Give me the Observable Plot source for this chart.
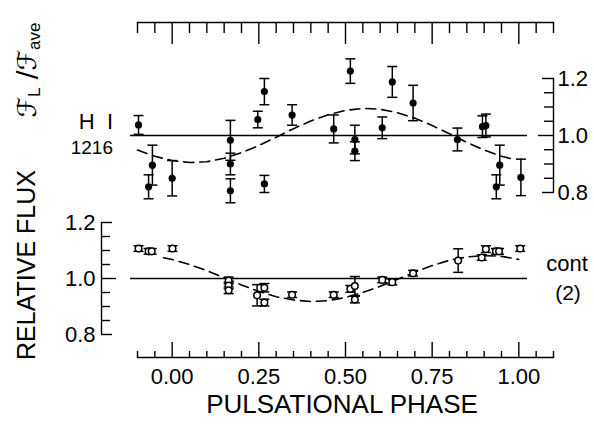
<!DOCTYPE html>
<html><head><meta charset="utf-8">
<script src="https://cdn.jsdelivr.net/npm/d3@7"></script>
<script src="https://cdn.jsdelivr.net/npm/@observablehq/plot@0.6"></script>
<style>
body{margin:0;background:#fff;}
#wrap{position:relative;width:594px;height:424px;font-family:"Liberation Sans",Arial,sans-serif;color:#000;overflow:hidden;}
#wrap svg{position:absolute;left:0;top:0;}
.lab{position:absolute;white-space:nowrap;line-height:1;}
.rot{position:absolute;white-space:nowrap;line-height:1;transform:translate(-50%,-50%) rotate(-90deg);}
</style></head><body><div id="wrap">
<div class="rot" style="left:28px;top:70px;font-size:26px;font-family:'DejaVu Sans','DejaVu Serif','Liberation Sans',sans-serif;">ℱ<span style="font-family:'Liberation Sans';font-size:17px;vertical-align:-4px">L</span> /ℱ<span style="font-family:'Liberation Sans';font-size:17px;vertical-align:-4px">ave</span></div>
<div class="rot" style="left:26px;top:265px;font-size:25px;">RELATIVE FLUX</div>
<div class="lab" style="right:481px;top:111px;font-size:22px;">H&nbsp;&nbsp;I</div>
<div class="lab" style="right:481px;top:138px;font-size:19px;">1216</div>
<div class="lab" style="left:567px;top:253px;font-size:22px;transform:translateX(-50%);">cont</div>
<div class="lab" style="left:568px;top:282px;font-size:21px;transform:translateX(-50%);">(2)</div>
<div class="lab" style="left:342px;top:391px;font-size:26px;transform:translateX(-50%);">PULSATIONAL PHASE</div>
</div>
<script>
const W = 594, H = 424;
const xDomain = [-0.1, 1.1];
const yDomain = [0.8, 1.2];
const xMajorTicks = [0, 0.25, 0.5, 0.75, 1];
const xMinorTicks = [-0.1, -0.05, 0.05, 0.1, 0.15, 0.2, 0.3, 0.35, 0.4, 0.45, 0.55, 0.6, 0.65, 0.7, 0.8, 0.85, 0.9, 0.95, 1.05, 1.1];
const yEndTicks = [0.8, 1.2];
const yMidTick = [1.0];
const yMinorTicks = [0.85, 0.9, 0.95, 1.05, 1.1, 1.15];
const yLabelTicks = [0.8, 1.0, 1.2];
const refSpan = [-0.12, 1.025];

// H I 1216 (filled)
const lyaPhase = [-0.097, -0.068, -0.057, 0.000, 0.168, 0.168, 0.168, 0.247, 0.266, 0.266, 0.346, 0.466, 0.514, 0.527, 0.527, 0.606, 0.635, 0.695, 0.823, 0.895, 0.905, 0.935, 0.945, 1.006];
const lyaFlux  = [1.037, 0.820, 0.896, 0.850, 0.983, 0.900, 0.806, 1.056, 1.154, 0.830, 1.072, 1.023, 1.226, 0.986, 0.945, 1.027, 1.188, 1.114, 0.986, 1.031, 1.035, 0.820, 0.896, 0.853];
const lyaErr   = [0.033, 0.042, 0.070, 0.062, 0.070, 0.038, 0.042, 0.029, 0.046, 0.030, 0.036, 0.049, 0.043, 0.050, 0.033, 0.038, 0.054, 0.062, 0.040, 0.038, 0.040, 0.042, 0.070, 0.064];

// continuum (open)
const contPhase = [-0.097, -0.068, -0.059, 0.001, 0.163, 0.163, 0.163, 0.245, 0.266, 0.266, 0.346, 0.466, 0.514, 0.527, 0.527, 0.606, 0.635, 0.695, 0.825, 0.893, 0.905, 0.934, 0.943, 1.004];
const contFlux  = [1.107, 1.097, 1.097, 1.107, 0.993, 0.975, 0.958, 0.940, 0.967, 0.914, 0.942, 0.942, 0.963, 0.973, 0.925, 0.995, 0.987, 1.019, 1.064, 1.075, 1.105, 1.097, 1.097, 1.107];
const contErr   = [0.010, 0.010, 0.010, 0.010, 0.012, 0.012, 0.012, 0.038, 0.015, 0.012, 0.010, 0.010, 0.012, 0.034, 0.012, 0.010, 0.010, 0.010, 0.042, 0.010, 0.012, 0.010, 0.010, 0.010];

// dashed fit curves
const lyaFitPhase = [-0.10, -0.05, 0.00, 0.05, 0.10, 0.15, 0.20, 0.25, 0.30, 0.35, 0.40, 0.45, 0.50, 0.55, 0.60, 0.65, 0.70, 0.75, 0.80, 0.85, 0.90, 0.95, 0.98];
const lyaFitFlux  = [0.949, 0.927, 0.912, 0.905, 0.908, 0.920, 0.940, 0.965, 0.994, 1.024, 1.051, 1.073, 1.088, 1.095, 1.092, 1.080, 1.061, 1.035, 1.006, 0.976, 0.949, 0.927, 0.918];
const contFitPhase = [-0.025, 0.00, 0.05, 0.10, 0.15, 0.20, 0.25, 0.30, 0.35, 0.40, 0.45, 0.50, 0.55, 0.60, 0.65, 0.70, 0.75, 0.80, 0.85, 0.90, 0.95, 1.00];
const contFitFlux  = [1.074, 1.068, 1.050, 1.028, 1.003, 0.977, 0.954, 0.935, 0.923, 0.918, 0.921, 0.932, 0.950, 0.972, 0.997, 1.023, 1.046, 1.065, 1.077, 1.082, 1.079, 1.068];

const lya = lyaPhase.map((p, i) => ({p, v: lyaFlux[i], e: lyaErr[i]}));
const cont = contPhase.map((p, i) => ({p, v: contFlux[i], e: contErr[i]}));
const lyaFit = lyaFitPhase.map((p, i) => ({p, v: lyaFitFlux[i]}));
const contFit = contFitPhase.map((p, i) => ({p, v: contFitFlux[i]}));

const capSymbol = {draw(ctx, size) { const w = Math.sqrt(size / Math.PI); ctx.moveTo(-w, 0); ctx.lineTo(w, 0); }};
const none = () => "";
const sw = 1.4;
const font = {background: "transparent", fontFamily: "'Liberation Sans', Arial, sans-serif", overflow: "visible"};

function errorMarks(data, open) {
  return [
    Plot.ruleX(data, {x: "p", y1: d => d.v - d.e, y2: d => d.v + d.e, strokeWidth: 1.5}),
    Plot.dot(data, {x: "p", y: d => d.v - d.e, symbol: capSymbol, r: 5, stroke: "black", fill: "none", strokeWidth: 1.5}),
    Plot.dot(data, {x: "p", y: d => d.v + d.e, symbol: capSymbol, r: 5, stroke: "black", fill: "none", strokeWidth: 1.5}),
    open
      ? Plot.dot(data, {x: "p", y: "v", r: 3.3, fill: "white", stroke: "black", strokeWidth: 1.5})
      : Plot.dot(data, {x: "p", y: "v", r: 3.6, fill: "black", stroke: "none"})
  ];
}

const topPlot = Plot.plot({
  width: W, height: H,
  marginTop: 22, marginRight: 41, marginLeft: 137, marginBottom: 0,
  style: font,
  x: {domain: xDomain, label: null},
  y: {domain: yDomain, range: [192, 78], label: null},
  marks: [
    Plot.frame({anchor: "top", strokeWidth: sw}),
    Plot.axisX({ticks: xMinorTicks, anchor: "top", tickSize: -10, tickFormat: none, label: null, strokeWidth: sw}),
    Plot.axisX({ticks: xMajorTicks, anchor: "top", tickSize: -21, tickFormat: none, label: null, strokeWidth: sw}),
    Plot.ruleX([xDomain[1]], {y1: yDomain[0], y2: yDomain[1], strokeWidth: sw}),
    Plot.axisY({ticks: yMinorTicks, anchor: "right", tickSize: -10, tickFormat: none, label: null, strokeWidth: sw}),
    Plot.axisY({ticks: yEndTicks, anchor: "right", tickSize: -12, tickFormat: none, label: null, strokeWidth: sw}),
    Plot.axisY({ticks: yMidTick, anchor: "right", tickSize: -16, tickFormat: none, label: null, strokeWidth: sw}),
    Plot.axisY({ticks: yLabelTicks, anchor: "right", tickSize: 0, tickPadding: 4, tickFormat: d3.format(".1f"), label: null, fontSize: 22}),
    Plot.ruleY([1.0], {x1: refSpan[0], x2: refSpan[1], strokeWidth: 1.5}),
    Plot.line(lyaFit, {x: "p", y: "v", strokeDasharray: "10,6", strokeWidth: 1.6}),
    ...errorMarks(lya, false)
  ]
});

const botPlot = Plot.plot({
  width: W, height: H,
  marginTop: 0, marginRight: 41, marginLeft: 137, marginBottom: 67,
  style: font,
  x: {domain: xDomain, label: null},
  y: {domain: yDomain, range: [334, 222], label: null},
  marks: [
    Plot.frame({anchor: "bottom", strokeWidth: sw}),
    Plot.axisX({ticks: xMinorTicks, anchor: "bottom", tickSize: -6, tickFormat: none, label: null, strokeWidth: sw}),
    Plot.axisX({ticks: xMajorTicks, anchor: "bottom", tickSize: -15, tickFormat: none, label: null, strokeWidth: sw}),
    Plot.axisX({ticks: xMajorTicks, anchor: "bottom", tickSize: 0, tickPadding: 11, tickFormat: d3.format(".2f"), label: null, fontSize: 22}),
    Plot.ruleX([xDomain[0]], {y1: yDomain[0], y2: yDomain[1], dx: -36, strokeWidth: sw}),
    Plot.axisY({ticks: yMinorTicks, anchor: "left", tickSize: -9, dx: -36, tickFormat: none, label: null, strokeWidth: sw}),
    Plot.axisY({ticks: yEndTicks, anchor: "left", tickSize: -11, dx: -36, tickFormat: none, label: null, strokeWidth: sw}),
    Plot.axisY({ticks: yMidTick, anchor: "left", tickSize: -15, dx: -36, tickFormat: none, label: null, strokeWidth: sw}),
    Plot.axisY({ticks: yLabelTicks, anchor: "left", tickSize: 0, tickPadding: 6, dx: -36, tickFormat: d3.format(".1f"), label: null, fontSize: 22}),
    Plot.ruleY([1.0], {x1: refSpan[0], x2: refSpan[1], strokeWidth: 1.5}),
    Plot.line(contFit, {x: "p", y: "v", strokeDasharray: "10,6", strokeWidth: 1.6}),
    ...errorMarks(cont, true)
  ]
});

const wrap = document.getElementById("wrap");
wrap.insertBefore(botPlot, wrap.firstChild);
wrap.insertBefore(topPlot, wrap.firstChild);
</script>
</body></html>
